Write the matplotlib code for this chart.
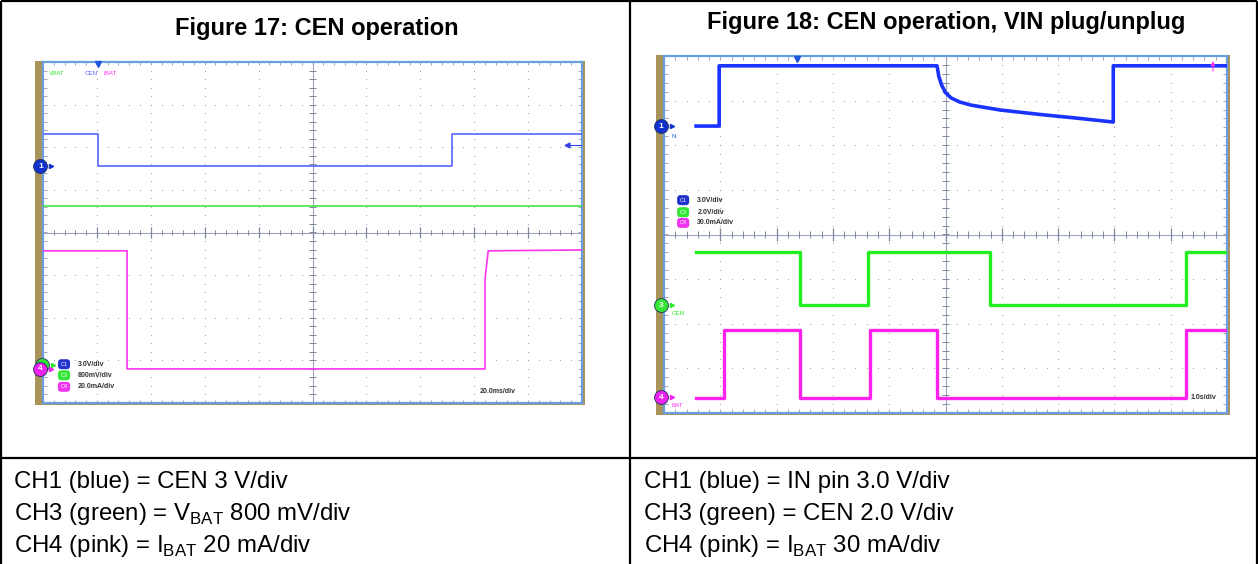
import numpy as np
import matplotlib
matplotlib.use("Agg")
import matplotlib.pyplot as plt
from matplotlib.patches import Rectangle

plt.rcParams["font.family"] = ["Liberation Sans", "DejaVu Sans"]
plt.rcParams["mathtext.fontset"] = "custom"
plt.rcParams["mathtext.rm"] = "Liberation Sans"

# ── data (scope divisions: x 0..10, y -4..4) ─────────────────────────────────
# Figure 17
f17_cen_t   = [0.0, 1.02, 1.02, 7.59, 7.59, 10.0]
f17_cen_v   = [2.31, 2.31, 1.56, 1.56, 2.31, 2.31]
f17_vbat_t  = [0.0, 10.0]
f17_vbat_v  = [0.62, 0.62]
f17_ibat_t  = [0.0, 1.56, 1.56, 8.20, 8.20, 8.26, 10.0]
f17_ibat_v  = [-0.43, -0.43, -3.20, -3.20, -1.10, -0.43, -0.41]

# Figure 18
f18_in_t    = [0.57, 0.98, 0.98, 4.85, 4.88, 4.93, 5.00, 5.10, 5.25, 5.45,
               5.97, 6.68, 7.39, 7.98, 7.98, 10.0]
f18_in_v    = [2.43, 2.43, 3.78, 3.78, 3.55, 3.35, 3.18, 3.06, 2.97, 2.90,
               2.79, 2.69, 2.60, 2.52, 3.78, 3.78]
f18_cen_t   = [0.57, 2.42, 2.42, 3.62, 3.62, 5.79, 5.79, 9.27, 9.27, 10.0]
f18_cen_v   = [-0.39, -0.39, -1.58, -1.58, -0.39, -0.39, -1.58, -1.58, -0.39, -0.39]
f18_ibat_t  = [0.57, 1.07, 1.07, 2.42, 2.42, 3.66, 3.66, 4.85, 4.85, 9.27, 9.27, 10.0]
f18_ibat_v  = [-3.67, -3.67, -2.14, -2.14, -3.67, -3.67, -2.14, -2.14, -3.67, -3.67, -2.14, -2.14]

TITLES = ["Figure 17: CEN operation", "Figure 18: CEN operation, VIN plug/unplug"]
NOTES_17 = ["CH1 (blue) = CEN 3 V/div",
            "CH3 (green) = V$_{\\mathrm{BAT}}$ 800 mV/div",
            "CH4 (pink) = I$_{\\mathrm{BAT}}$ 20 mA/div"]
NOTES_18 = ["CH1 (blue) = IN pin 3.0 V/div",
            "CH3 (green) = CEN 2.0 V/div",
            "CH4 (pink) = I$_{\\mathrm{BAT}}$ 30 mA/div"]
LEG_17 = [("C1", "3.0V/div"), ("C3", "800mV/div"), ("C4", "20.0mA/div")]
LEG_18 = [("C1", "3.0V/div"), ("C3", "2.0V/div"), ("C4", "30.0mA/div")]

BLUE   = "#3344ee"
GREEN  = "#33e633"
PINK   = "#ff33ee"
FRAME  = "#6a9ee0"
TAN    = "#a8945a"
W, H   = 1258, 564


def scope_axes(fig, x0, y0, x1, y1):
    ax = fig.add_axes([x0 / W, 1 - y1 / H, (x1 - x0) / W, (y1 - y0) / H], zorder=2)
    ax.set_xlim(0, 10)
    ax.set_ylim(-4, 4)
    ax.set_xticks([])
    ax.set_yticks([])
    for s in ax.spines.values():
        s.set_color(FRAME)
        s.set_linewidth(1.6)
    # dotted graticule
    fine_y = np.arange(-4, 4.01, 0.2)
    fine_x = np.arange(0, 10.01, 0.2)
    for xv in [1, 2, 3, 4, 6, 7, 8, 9]:
        ax.scatter(np.full_like(fine_y, xv), fine_y, s=0.8, color="#a8a8a8", lw=0, zorder=1)
    for yv in [-3, -2, -1, 1, 2, 3]:
        ax.scatter(fine_x, np.full_like(fine_x, yv), s=0.8, color="#a8a8a8", lw=0, zorder=1)
    # centre axes with ticks
    ax.axhline(0, color="#a0a4b8", lw=0.8, zorder=1)
    ax.axvline(5, color="#a0a4b8", lw=0.8, zorder=1)
    ax.vlines(fine_x, -0.07, 0.07, color="#8088a0", lw=0.7, zorder=1)
    ax.hlines(fine_y, 4.94, 5.06, color="#8088a0", lw=0.7, zorder=1)
    ax.vlines(np.arange(1, 10), -0.14, 0.14, color="#8088a0", lw=0.9, zorder=1)
    # edge ticks
    ax.vlines(fine_x, 3.92, 4.0, color="#9098b0", lw=0.6, zorder=1)
    ax.vlines(fine_x, -4.0, -3.92, color="#9098b0", lw=0.6, zorder=1)
    ax.hlines(fine_y, 0, 0.07, color="#9098b0", lw=0.6, zorder=1)
    ax.hlines(fine_y, 9.93, 10, color="#9098b0", lw=0.6, zorder=1)
    return ax


def ch_marker(ax, y, num, color, x=-0.05):
    ax.plot([x], [y], marker="o", ms=10, mfc=color, mec="#203060", mew=0.6,
            clip_on=False, zorder=6)
    if num:
        ax.text(x, y, num, color="white", fontsize=6, ha="center", va="center",
                fontweight="bold", clip_on=False, zorder=7)
    ax.plot([x + 0.2], [y], marker=">", ms=3, color=color, clip_on=False, zorder=6)


def legend(ax, x, ys, items, colors):
    for y, (tag, lab), c in zip(ys, items, colors):
        ax.text(x, y, tag, color="white", fontsize=4, ha="center", va="center",
                bbox=dict(boxstyle="round,pad=0.45,rounding_size=0.6", fc=c, ec="none"),
                zorder=6)
        ax.text(x + 0.25, y, lab, color="#333333", fontsize=5, ha="left", va="center",
                fontweight="bold", zorder=6)


fig = plt.figure(figsize=(W / 100, H / 100), dpi=100)
bg = fig.add_axes([0, 0, 1, 1], zorder=0)
bg.set_xlim(0, W)
bg.set_ylim(H, 0)
bg.axis("off")

# table lines
for (xa, ya, xb, yb) in [(1, 1, W - 1, 1), (1, 1, 1, H), (W - 1, 1, W - 1, H),
                         (630, 1, 630, H), (1, 458, W - 1, 458)]:
    bg.plot([xa, xb], [ya, yb], color="black", lw=1.6, solid_capstyle="butt")

bg.text(317, 28, TITLES[0], fontsize=17, fontweight="bold", ha="center", va="center")
bg.text(946, 22, TITLES[1], fontsize=17, fontweight="bold", ha="center", va="center")
for i, (a, b) in enumerate(zip(NOTES_17, NOTES_18)):
    y = 482 + 32 * i
    bg.text(14, y, a, fontsize=17.3, ha="left", va="center")
    bg.text(644, y, b, fontsize=17.3, ha="left", va="center")

# tan bezels
bg.add_patch(Rectangle((35, 61), 550, 344, color=TAN, lw=0))
bg.add_patch(Rectangle((656, 55), 574, 360, color=TAN, lw=0))

# ── Figure 17 scope ──────────────────────────────────────────────────────────
ax1 = scope_axes(fig, 43, 62, 582, 403)
ax1.plot(f17_vbat_t, f17_vbat_v, color=GREEN, lw=1.1, zorder=3)
ax1.plot(f17_cen_t, f17_cen_v, color="#5566ff", lw=1.2, zorder=4)
ax1.plot(f17_ibat_t, f17_ibat_v, color=PINK, lw=1.2, zorder=4)
ax1.text(0.12, 3.72, "VBAT", color=GREEN, fontsize=4.5, va="center")
ax1.text(0.78, 3.72, "CEN", color="#5566ff", fontsize=4.5, va="center")
ax1.text(1.12, 3.72, "IBAT", color=PINK, fontsize=4.5, va="center")
ax1.plot([1.02], [3.95], marker="v", ms=4, color="#2255dd", clip_on=False, zorder=6)
ax1.plot([9.72], [2.05], marker="<", ms=3.5, color=BLUE, zorder=6)
ax1.plot([9.72, 9.98], [2.05, 2.05], color=BLUE, lw=0.8, zorder=6)
ch_marker(ax1, 1.56, "1", "#1133cc")
ch_marker(ax1, -3.12, None, GREEN, x=-0.02)
ch_marker(ax1, -3.20, "4", "#ee22ee")
legend(ax1, 0.39, [-3.09, -3.35, -3.62], LEG_17, ["#2233cc", GREEN, "#ee33ee"])
ax1.text(8.1, -3.74, "20.0ms/div", color="#333333", fontsize=5, fontweight="bold",
         va="center", zorder=6)

# ── Figure 18 scope ──────────────────────────────────────────────────────────
ax2 = scope_axes(fig, 664, 56, 1227, 413)
ax2.plot(f18_in_t, f18_in_v, color="#1a33ff", lw=2.6, zorder=4)
ax2.plot(f18_cen_t, f18_cen_v, color="#22ee22", lw=2.4, zorder=4)
ax2.plot(f18_ibat_t, f18_ibat_v, color="#ff22ee", lw=2.4, zorder=4)
ax2.plot([2.36], [3.93], marker="v", ms=4, color="#2255dd", clip_on=False, zorder=6)
ax2.annotate("", xy=(9.75, 3.95), xytext=(9.75, 3.6),
             arrowprops=dict(arrowstyle="-|>", color=PINK, lw=0.8, mutation_scale=6), zorder=6)
ch_marker(ax2, 2.43, "1", "#1133cc")
ch_marker(ax2, -1.58, "3", GREEN)
ch_marker(ax2, -3.65, "4", "#ee22ee")
ax2.text(0.14, 2.2, "N", color="#2255dd", fontsize=4.5, va="center")
ax2.text(0.14, -1.76, "CEN", color=GREEN, fontsize=4.5, va="center")
ax2.text(0.14, -3.84, "BAT", color=PINK, fontsize=4.5, va="center")
legend(ax2, 0.34, [0.77, 0.50, 0.26], LEG_18, ["#2233cc", GREEN, "#ee33ee"])
ax2.text(9.36, -3.66, "1.0s/div", color="#333333", fontsize=5, fontweight="bold",
         va="center", zorder=6)

fig.savefig("out.png", dpi=100)
